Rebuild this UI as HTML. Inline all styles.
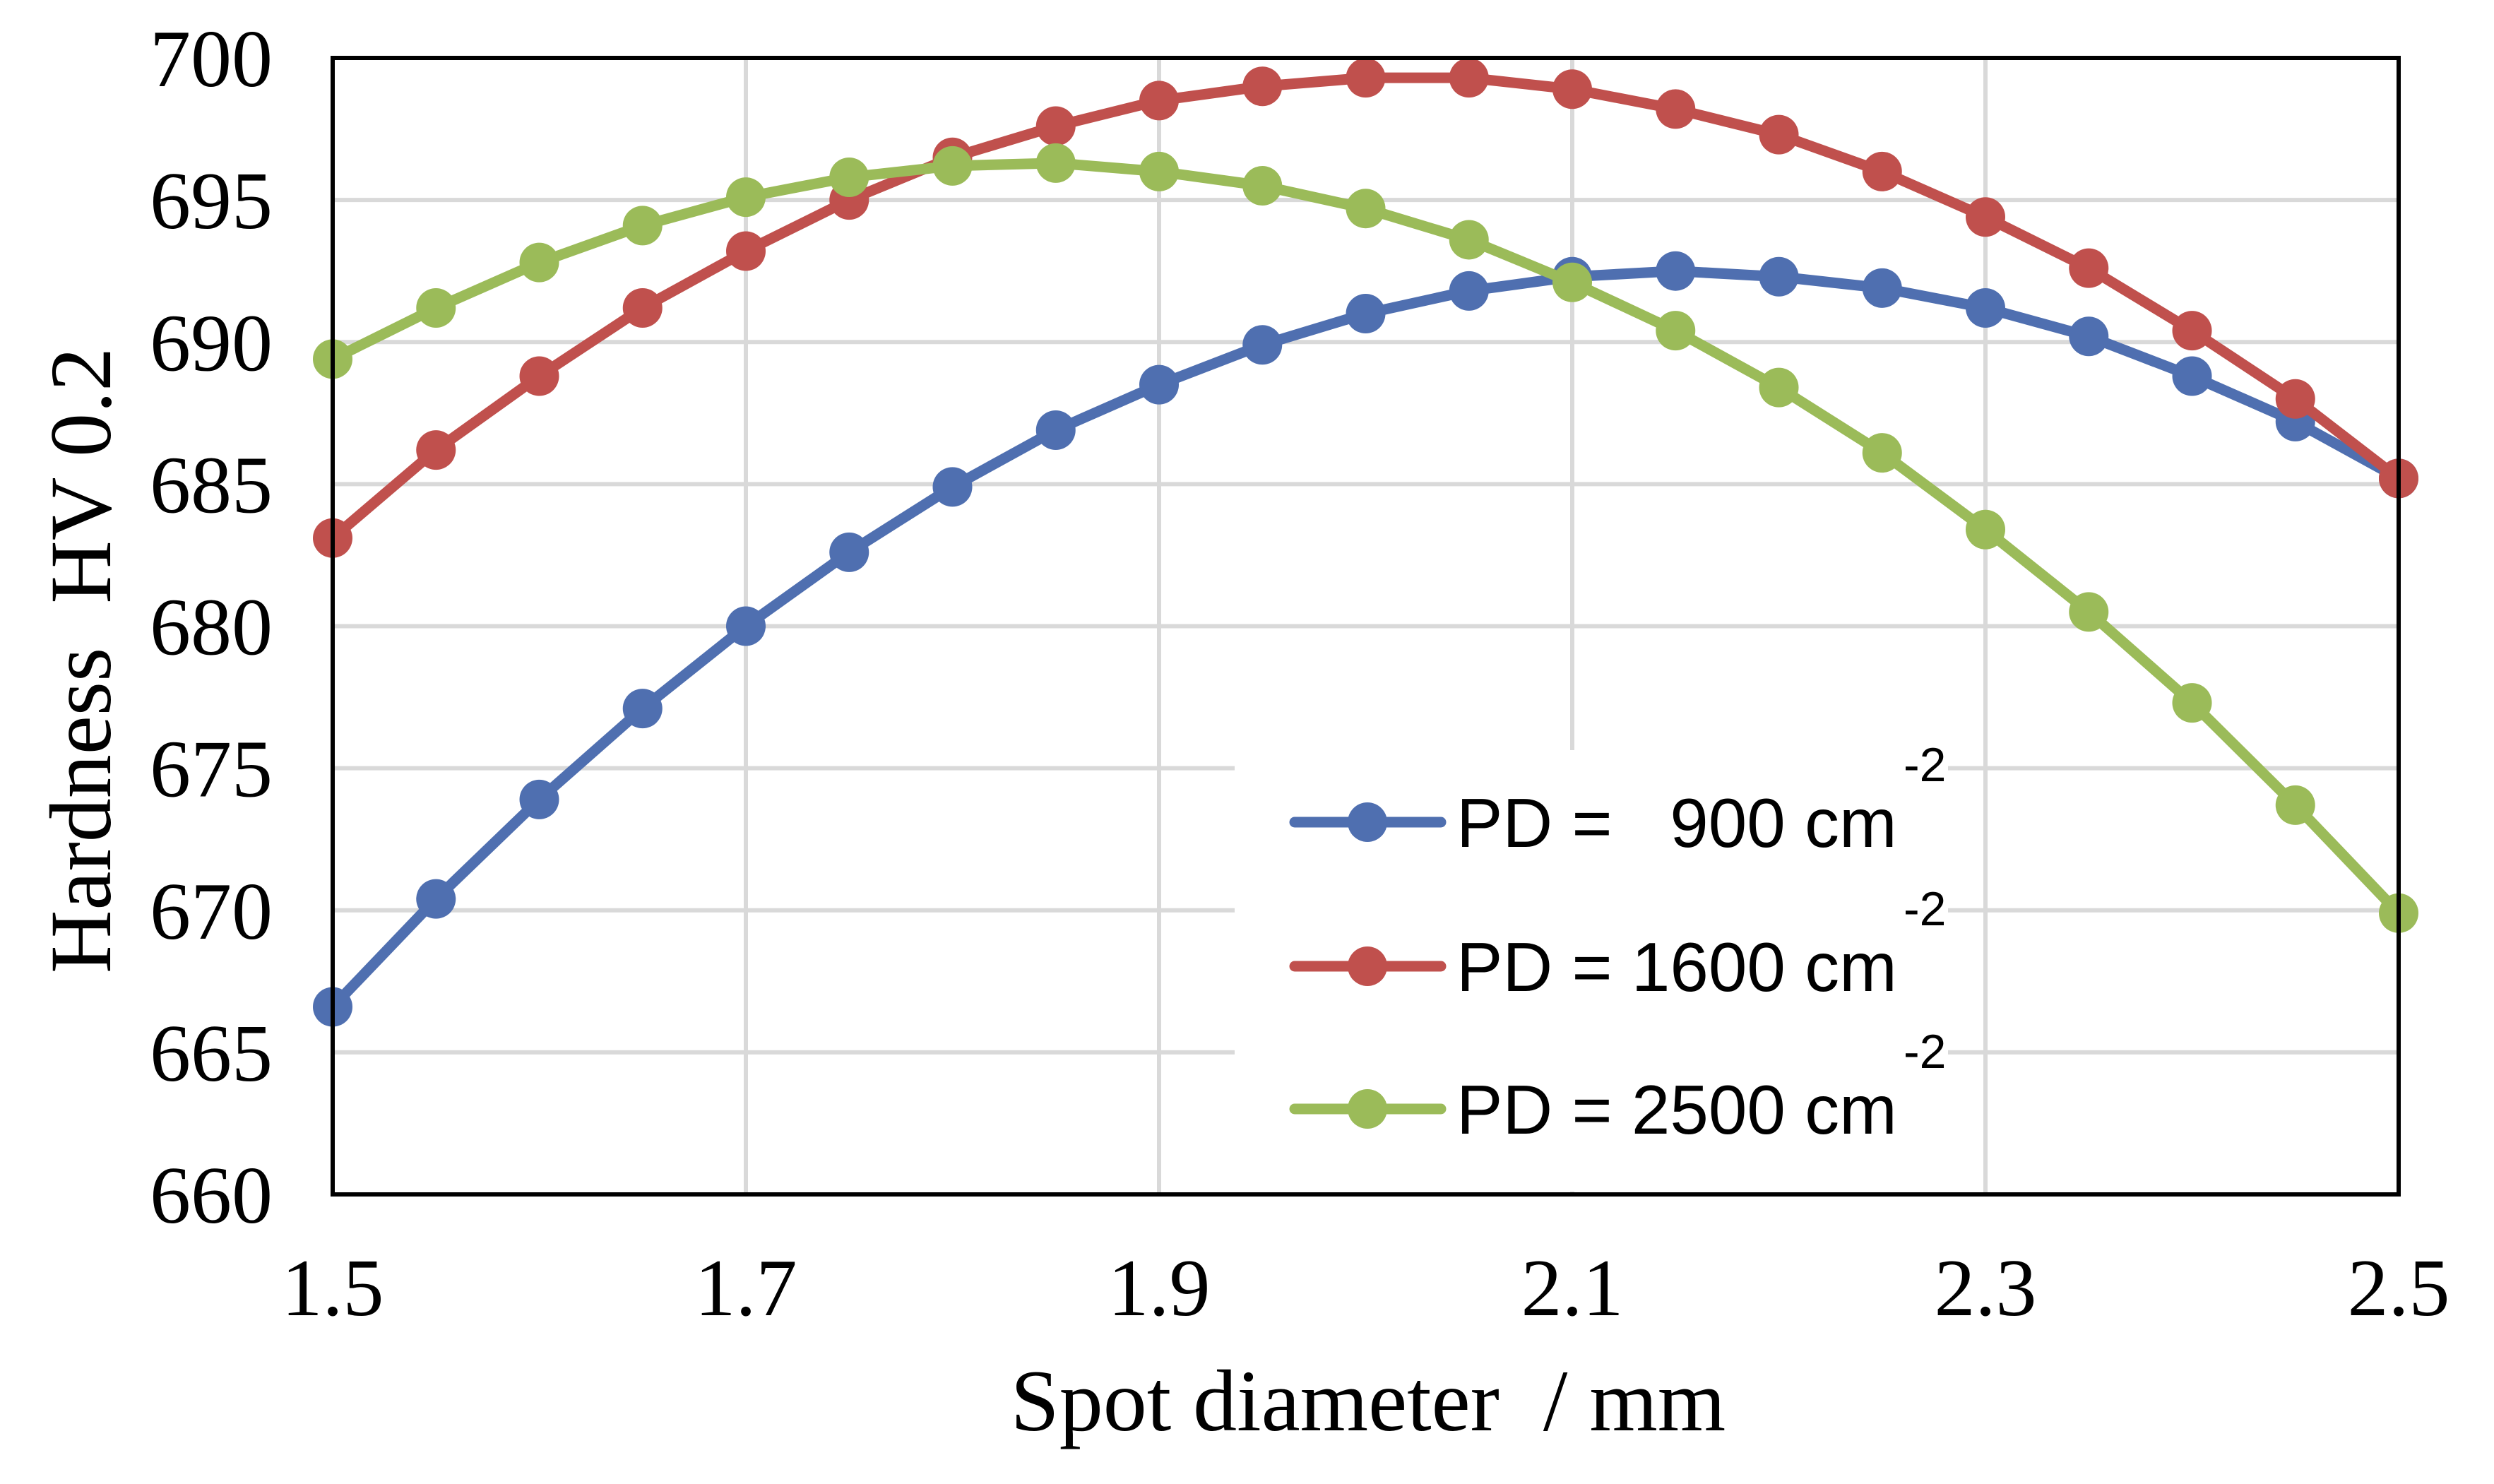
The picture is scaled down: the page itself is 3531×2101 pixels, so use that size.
<!DOCTYPE html>
<html><head><meta charset="utf-8"><style>
html,body{margin:0;padding:0;background:#fff;}
svg{display:block;}
text{white-space:pre;}
</style></head><body>
<svg id="chart" width="3531" height="2101" viewBox="0 0 3531 2101" xmlns="http://www.w3.org/2000/svg">
<rect width="3531" height="2101" fill="#fff"/>
<g id="grid"></g>
<rect x="1748" y="1062" width="1010" height="625" fill="#fff"/>
<g id="series"></g>
<rect x="471" y="82" width="2925" height="1609" fill="none" stroke="#000" stroke-width="6"/>
<g id="ticks" font-family="'Liberation Serif', serif" font-size="116" fill="#000"></g>
<text x="1937" y="2025" text-anchor="middle" font-family="'Liberation Serif', serif" font-size="124">Spot diameter  / mm</text>
<text transform="translate(156,935) rotate(-90)" text-anchor="middle" font-family="'Liberation Serif', serif" font-size="124">Hardness  HV 0.2</text>
<g id="legend" font-family="'Liberation Sans', sans-serif" fill="#000"></g>
</svg>
<script>
const xValues = [1.5,1.55,1.6,1.65,1.7,1.75,1.8,1.85,1.9,1.95,2.0,2.05,2.1,2.15,2.2,2.25,2.3,2.35,2.4,2.45,2.5];
const pd900 = [666.6,670.4,673.9,677.1,680.0,682.6,684.9,686.9,688.5,689.9,691.0,691.8,692.3,692.5,692.3,691.9,691.2,690.2,688.8,687.2,685.2];
const pd1600 = [683.1,686.2,688.8,691.2,693.2,695.0,696.5,697.6,698.5,699.0,699.3,699.3,698.9,698.2,697.3,696.0,694.4,692.6,690.4,688.0,685.2];
const pd2500 = [689.4,691.2,692.8,694.1,695.1,695.8,696.2,696.3,696.0,695.5,694.7,693.6,692.1,690.4,688.4,686.1,683.4,680.5,677.3,673.7,669.9];
const xTicks = [1.5,1.7,1.9,2.1,2.3,2.5];
const yTicks = [660,665,670,675,680,685,690,695,700];
const seriesNames = ["PD =   900 cm","PD = 1600 cm","PD = 2500 cm"];

const L=471,R=3396,T=82,B=1691;
const xs=v=>L+(v-1.5)/(2.5-1.5)*(R-L);
const ys=v=>B-(v-660)/(700-660)*(B-T);
const NS="http://www.w3.org/2000/svg";
function mk(tag,attrs,parent){const e=document.createElementNS(NS,tag);for(const k in attrs)e.setAttribute(k,attrs[k]);parent.appendChild(e);return e;}
const grid=document.getElementById('grid'),ticks=document.getElementById('ticks'),series=document.getElementById('series'),legend=document.getElementById('legend');

yTicks.forEach(t=>{
  const l=mk('line',{x1:L,x2:R,y1:ys(t),y2:ys(t),stroke:'#d9d9d9','stroke-width':6},grid);
  
  
  const tx=mk('text',{x:386,y:ys(t)+40,'text-anchor':'end'},ticks);
  tx.textContent=t;
  
  
});
xTicks.forEach(t=>{
  const l=mk('line',{x1:xs(t),x2:xs(t),y1:T,y2:B,stroke:'#d9d9d9','stroke-width':6},grid);
  
  
  const tx=mk('text',{x:xs(t),y:1862,'text-anchor':'middle'},ticks);
  tx.textContent=t.toFixed(1);
  
  
});

const allSeries=[pd900,pd1600,pd2500];
const colors=["#4f6fb0","#c0504d","#9bbb59"];
const sNames=["series-pd-900","series-pd-1600","series-pd-2500"];
allSeries.forEach((data,i)=>{
  const g=mk('g',{},series);
  
  
  const pts=data.map((v,j)=>xs(xValues[j])+','+ys(v)).join(' ');
  const pl=mk('polyline',{points:pts,fill:'none',stroke:colors[i],'stroke-width':15,'stroke-linejoin':'round'},g);
  
  
  data.forEach((v,j)=>{
    const c=mk('circle',{cx:xs(xValues[j]),cy:ys(v),r:28,fill:colors[i]},g);
    
    
  });
});

const legY=[1164,1368,1570];
seriesNames.forEach((n,i)=>{
  const g=mk('g',{},legend);
  
  
  mk('line',{x1:1833,x2:2040,y1:legY[i],y2:legY[i],stroke:colors[i],'stroke-width':15,'stroke-linecap':'round'},g);
  mk('circle',{cx:1936,cy:legY[i],r:28,fill:colors[i]},g);
  const t=mk('text',{x:2062,y:legY[i]+35,'font-size':98},g);
  t.textContent=n;
  const s=mk('text',{x:2695,y:legY[i]-58,'font-size':68},g);
  s.textContent='-2';
});
</script>
</body></html>
